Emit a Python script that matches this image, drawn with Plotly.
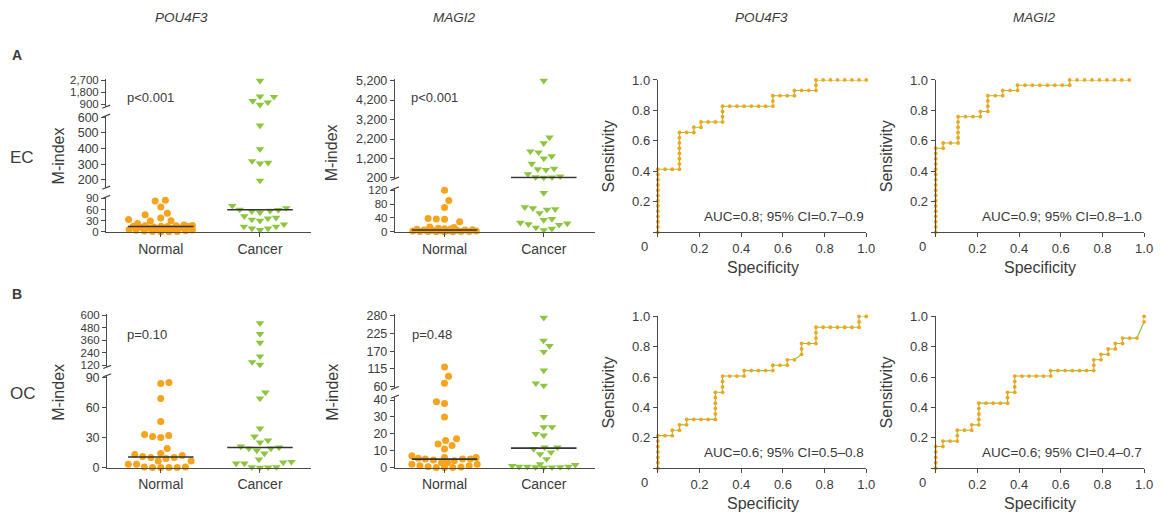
import math
import numpy as np
import plotly.graph_objects as go

W, H = 1166, 518

# ---------------- data ----------------
categories = ["Normal", "Cancer"]
gene_labels = ["POU4F3", "MAGI2", "POU4F3", "MAGI2"]
row_labels = ["A", "B"]
cancer_types = ["EC", "OC"]

# M-index values
pou4f3_ec_normal = [85, 83, 67, 50, 46, 37, 33, 30, 29, 22, 18, 17, 16, 16, 15, 15, 14, 14,
                    13, 12, 11, 10, 9, 8, 7, 6, 5, 4, 3, 2, 1, 1, 0, 0]
pou4f3_ec_cancer = [2650, 1480, 1450, 1150, 1050, 870, 548, 397, 320, 310, 305, 196,
                    70, 64, 60, 59, 57, 55, 52, 42, 38, 36, 33, 30, 20, 14, 9, 5, 9, 14]
magi2_ec_normal = [120, 90, 70, 38, 37, 36, 29, 14, 12, 10, 9, 8, 7, 6, 5, 5, 4, 4, 3, 3,
                   2, 2, 1, 1, 0.5, 0.5, 0, 0, 0]
magi2_ec_cancer = [5200, 2285, 1985, 1570, 1520, 1320, 1200, 935, 685, 650, 620, 400, 285,
                   240, 230, 220, 112, 71, 68, 65, 64, 54, 37, 34, 26, 24, 22, 20, 12, 9, 5]
pou4f3_oc_normal = [85, 84, 69, 46, 33, 32, 31, 30, 19, 14, 13, 12, 11, 10, 10, 9,
                    6.4, 3.2, 0.6, 0, 0, 0, 0, 0.5, 3.2, 6.4]
pou4f3_oc_cancer = [523, 420, 337, 206, 151, 126, 75, 69, 39, 31, 27, 25, 21, 20, 19, 19,
                    17, 14, 8, 5.7, 5, 4, 4, 0.5, 0.3, 0.2, 0]
magi2_oc_normal = [121, 92, 70, 39, 38, 30, 17, 16, 14, 13, 11, 7, 6, 6, 5.5, 5, 5, 5, 4.5,
                   4, 3, 3, 2, 2, 1, 1, 0.5, 0.3, 0, 0, 0]
magi2_oc_cancer = [274, 203, 186, 168, 110, 70, 63, 30, 24, 24, 20, 19, 12, 12, 11, 9, 8,
                   5, 2, 1.5, 1, 0.5, 0.5, 0.5, 0.3, 0.2, 0.1, 0]

p_value_labels = ["p<0.001", "p<0.001", "p=0.10", "p=0.48"]

# broken y-axis tick values, bottom segment first
pou4f3_ec_ticks = [[0, 30, 60, 90], [200, 300, 400, 500, 600], [900, 1800, 2700]]
magi2_ec_ticks = [[0, 40, 80, 120], [200, 1200, 2200, 3200, 4200, 5200]]
pou4f3_oc_ticks = [[0, 30, 60, 90], [120, 240, 360, 480, 600]]
magi2_oc_ticks = [[0, 10, 20, 30, 40], [60, 115, 170, 225, 280]]

# ROC curves as ranked case sequences: (normal cases, cancer cases, repeats)
pou4f3_ec_roc_steps = [(0, 1, 12), (1, 0, 3), (0, 1, 7), (1, 0, 2), (0, 1, 1), (1, 0, 1),
                       (0, 1, 1), (1, 0, 3), (0, 1, 3), (1, 0, 7), (0, 1, 2), (1, 0, 3),
                       (0, 1, 1), (1, 0, 3), (0, 1, 2), (1, 0, 7)]
magi2_ec_roc_steps = [(0, 1, 16), (1, 0, 1), (0, 1, 1), (1, 0, 2), (0, 1, 5), (1, 0, 3),
                      (0, 1, 1), (1, 0, 1), (0, 1, 3), (1, 0, 2), (0, 1, 1), (1, 0, 2),
                      (0, 1, 1), (1, 0, 7), (0, 1, 1), (1, 0, 8)]
pou4f3_oc_roc_steps = [(0, 1, 6), (1, 0, 2), (0, 1, 1), (1, 0, 1), (0, 1, 1), (1, 0, 1),
                       (0, 1, 1), (1, 0, 4), (0, 1, 5), (1, 0, 1), (0, 1, 3), (1, 0, 3),
                       (0, 1, 1), (1, 0, 4), (0, 1, 1), (1, 0, 2), (0, 1, 1), (1, 0, 1),
                       (1, 1, 1), (0, 1, 2), (1, 0, 2), (0, 1, 3), (1, 0, 6), (0, 1, 2),
                       (1, 0, 1)]
magi2_oc_roc_steps = [(0, 1, 4), (1, 0, 1), (0, 1, 1), (1, 0, 2), (0, 1, 2), (1, 0, 2),
                      (0, 1, 1), (1, 0, 1), (0, 1, 4), (1, 0, 4), (0, 1, 2), (1, 0, 1),
                      (0, 1, 3), (1, 0, 5), (0, 1, 1), (1, 0, 6), (0, 1, 2), (1, 0, 1),
                      (0, 1, 1), (1, 0, 1), (0, 1, 1), (1, 0, 1), (0, 1, 1), (1, 0, 1),
                      (0, 1, 1), (1, 0, 2), (1, 3, 1), (0, 1, 1)]
roc_n_normal = [29, 28, 29, 29]
roc_n_cancer = [29, 29, 28, 28]
auc_labels = ["AUC=0.8; 95% CI=0.7\u20130.9", "AUC=0.9; 95% CI=0.8\u20131.0",
              "AUC=0.6; 95% CI=0.5\u20130.8", "AUC=0.6; 95% CI=0.4\u20130.7"]
roc_ticks = [0, 0.2, 0.4, 0.6, 0.8, 1.0]

# ---------------- style ----------------
ORANGE = "#F8A31C"
GREEN = "#8CC63F"
AXC = "#4a4a4a"
TXT = "#3a3a3a"
FONT = "Liberation Sans, Arial, sans-serif"
PX_PER_CAT = 100.0

fig = go.Figure()
layout = dict(width=W, height=H, margin=dict(l=0, r=0, t=0, b=0, pad=0),
              paper_bgcolor="white", plot_bgcolor="white", showlegend=False,
              font=dict(family=FONT, color=TXT))
annotations = []
shapes = []


def px_x(px):
    return px / W


def px_y(py):
    return 1 - py / H


def ann(text, px, py, size, angle=0, xanchor="center", yanchor="middle"):
    annotations.append(dict(text=text, x=px_x(px), y=px_y(py), xref="paper", yref="paper",
                            showarrow=False, textangle=angle, xanchor=xanchor,
                            yanchor=yanchor, font=dict(size=size, color=TXT, family=FONT)))


axis_common = dict(showline=True, linecolor=AXC, linewidth=1.2, ticks="outside", ticklen=4,
                   tickwidth=1.2, tickcolor=AXC, showgrid=False, zeroline=False,
                   tickfont=dict(size=13, color=TXT, family=FONT))

counter = {"x": 0, "y": 0}


def new_axis(kind):
    counter[kind] += 1
    n = counter[kind]
    name = kind if n == 1 else f"{kind}{n}"
    key = f"{kind}axis" if n == 1 else f"{kind}axis{n}"
    return name, key


def swarm(heights, D=8.3, limit=33.0):
    idx = sorted(range(len(heights)), key=lambda i: heights[i])
    placed = []
    out = [0.0] * len(heights)
    side = 1
    for i in idx:
        h = heights[i]
        d = D
        x = 0.0
        while True:
            cands = [0.0]
            for xj, hj in placed:
                dy = abs(h - hj)
                if dy < d:
                    dx = math.sqrt(d * d - dy * dy)
                    cands += [xj + dx, xj - dx]
            valid = [c for c in cands
                     if all((c - xj) ** 2 + (h - hj) ** 2 >= d * d - 1e-6 for xj, hj in placed)]
            valid.sort(key=lambda c: (round(abs(c), 6), -side * c))
            if valid and abs(valid[0]) <= limit:
                x = valid[0]
                break
            d *= 0.85
            if d < 1.0:
                x = 0.0
                break
        placed.append((x, h))
        out[i] = x
        if x > 1e-9:
            side = -1
        elif x < -1e-9:
            side = 1
    return out


scatter_panels = [
    dict(normal=pou4f3_ec_normal, cancer=pou4f3_ec_cancer, ticks=pou4f3_ec_ticks,
         xpx=(107, 313), center=162,
         segs=[((0, 94), (231, 195.2)), ((150, 610), (185.75, 111.7)),
               ((720, 2760), (102.5, 74.2))],
         p=p_value_labels[0], p_px=(152, 93.5), title_px=(59, 153)),
    dict(normal=magi2_ec_normal, cancer=magi2_ec_cancer, ticks=magi2_ec_ticks,
         xpx=(398, 600), center=448,
         segs=[((0, 125), (231, 186.5)), ((160, 5300), (176.5, 73.7))],
         p=p_value_labels[1], p_px=(438, 93.5), title_px=(335, 150)),
    dict(normal=pou4f3_oc_normal, cancer=pou4f3_oc_cancer, ticks=pou4f3_oc_ticks,
         xpx=(108, 313), center=162,
         segs=[((0, 92), (473.3, 378.6)), ((105, 610), (369.9, 315.6))],
         p=p_value_labels[2], p_px=(148, 336.5), title_px=(59, 396)),
    dict(normal=magi2_oc_normal, cancer=magi2_oc_cancer, ticks=magi2_oc_ticks,
         xpx=(398, 600), center=448,
         segs=[((0, 42), (473.3, 400.5)), ((55, 284), (391.7, 316.0))],
         p=p_value_labels[3], p_px=(435, 336.5), title_px=(335, 396)),
]

for P in scatter_panels:
    xname, xkey = new_axis("x")
    segs = P["segs"]
    base_py = segs[0][1][0]
    ynames = []
    for si, ((r0, r1), (py0, py1)) in enumerate(segs):
        yname, ykey = new_axis("y")
        ynames.append(yname)
        tv = P["ticks"][si]
        spacing = abs((py1 - py0) / (r1 - r0) * (tv[1] - tv[0]))
        fsize = 12.5 if spacing >= 15 else 11.5
        layout[ykey] = dict(axis_common, domain=[px_y(py0), px_y(py1)], range=[r0, r1],
                            anchor=xname, tickvals=tv, ticktext=[f"{v:,}" for v in tv],
                            tickfont=dict(size=fsize, color=TXT, family=FONT))
        ax_px = P["xpx"][0]
        if si < len(segs) - 1:
            shapes.append(dict(type="line", xref="paper", yref="paper",
                               x0=px_x(ax_px - 4), y0=px_y(py1 + 1.6),
                               x1=px_x(ax_px + 4), y1=px_y(py1 - 1.6),
                               line=dict(color=AXC, width=1.2)))
        if si > 0:
            shapes.append(dict(type="line", xref="paper", yref="paper",
                               x0=px_x(ax_px - 4), y0=px_y(py0 + 1.6),
                               x1=px_x(ax_px + 4), y1=px_y(py0 - 1.6),
                               line=dict(color=AXC, width=1.2)))
    layout[xkey] = dict(axis_common, domain=[px_x(P["xpx"][0]), px_x(P["xpx"][1])],
                        range=[(P["xpx"][0] - P["center"]) / PX_PER_CAT,
                               (P["xpx"][1] - P["center"]) / PX_PER_CAT],
                        anchor=ynames[0], tickvals=[0, 1], ticktext=categories,
                        tickfont=dict(size=14, color=TXT, family=FONT))

    def seg_of(v):
        for si, ((r0, r1), _) in enumerate(segs):
            if r0 - 1e-9 <= v <= r1:
                return si
        return 0

    def to_py(v):
        (r0, r1), (py0, py1) = segs[seg_of(v)]
        return py0 + (v - r0) * (py1 - py0) / (r1 - r0)

    for ci, (vals, color, symbol) in enumerate([(P["normal"], ORANGE, "circle"),
                                                (P["cancer"], GREEN, "triangle-down")]):
        heights = [base_py - to_py(v) for v in vals]
        offs = swarm(heights)
        xs = [ci + o / PX_PER_CAT for o in offs]
        for si in range(len(segs)):
            sel = [k for k, v in enumerate(vals) if seg_of(v) == si]
            if not sel:
                continue
            fig.add_trace(go.Scatter(
                x=[xs[k] for k in sel], y=[vals[k] for k in sel], mode="markers",
                xaxis=xname, yaxis=ynames[si], cliponaxis=False, hoverinfo="skip",
                marker=dict(color=color, size=7 if symbol == "circle" else 7.5,
                            symbol=symbol, line=dict(width=0))))
        med = float(np.median(vals))
        fig.add_trace(go.Scatter(
            x=[ci - 0.33, ci + 0.33], y=[med, med], mode="lines",
            xaxis=xname, yaxis=ynames[seg_of(med)], cliponaxis=False, hoverinfo="skip",
            line=dict(color="#333333", width=1.6)))

    ann(P["p"], P["p_px"][0], P["p_px"][1], 13)
    ann("M-index", P["title_px"][0], P["title_px"][1], 16, angle=-90)

roc_panels = [
    dict(steps=pou4f3_ec_roc_steps, xpx=(663, 873), ypx=(231.5, 75)),
    dict(steps=magi2_ec_roc_steps, xpx=(943, 1153), ypx=(231.5, 75)),
    dict(steps=pou4f3_oc_roc_steps, xpx=(663, 873), ypx=(474, 318)),
    dict(steps=magi2_oc_roc_steps, xpx=(943, 1153), ypx=(474, 318)),
]

for i, R in enumerate(roc_panels):
    xname, xkey = new_axis("x")
    yname, ykey = new_axis("y")
    nN, nC = roc_n_normal[i], roc_n_cancer[i]
    cx = cy = 0
    rx, ry = [0.0], [0.0]
    for dx, dy, rep in R["steps"]:
        for _ in range(rep):
            cx += dx
            cy += dy
            rx.append(cx / nN)
            ry.append(cy / nC)
    tick_text = [""] + [f"{t:.1f}" for t in roc_ticks[1:]]
    layout[xkey] = dict(axis_common, domain=[px_x(R["xpx"][0]), px_x(R["xpx"][1])],
                        range=[0, 1], anchor=yname, tickvals=roc_ticks, ticktext=tick_text)
    layout[ykey] = dict(axis_common, domain=[px_y(R["ypx"][0]), px_y(R["ypx"][1])],
                        range=[0, 1], anchor=xname, tickvals=roc_ticks, ticktext=tick_text)
    fig.add_trace(go.Scatter(x=rx, y=ry, mode="lines+markers", xaxis=xname, yaxis=yname,
                             cliponaxis=False, hoverinfo="skip",
                             line=dict(color=GREEN, width=1.1),
                             marker=dict(color=ORANGE, size=3.8, line=dict(width=0))))
    x0, x1 = R["xpx"]
    yb, yt = R["ypx"]
    ann(auc_labels[i], x1, yb - 16.5, 13.5, xanchor="right")
    ann("0", x0 - 13, yb + 15, 13)
    ann("Sensitivity", x0 - 50, (yb + yt) / 2, 16, angle=-90)
    ann("Specificity", (x0 + x1) / 2 + 0.5, yb + 36.5, 16)

# headers and row labels
for gx, g in zip([183, 458, 767, 1043], gene_labels):
    ann(f"<i>{g}</i>", gx, 11, 13.5)
ann(f"<b>{row_labels[0]}</b>", 17, 49, 14)
ann(f"<b>{row_labels[1]}</b>", 17, 295, 14)
ann(cancer_types[0], 22, 155, 17)
ann(cancer_types[1], 23, 397, 17)

layout["annotations"] = annotations
layout["shapes"] = shapes
fig.update_layout(**layout)
fig.write_html("out.html", config={"displayModeBar": False},
               post_script="document.body.style.margin='0px';"
                           "document.body.style.overflow='hidden';")
